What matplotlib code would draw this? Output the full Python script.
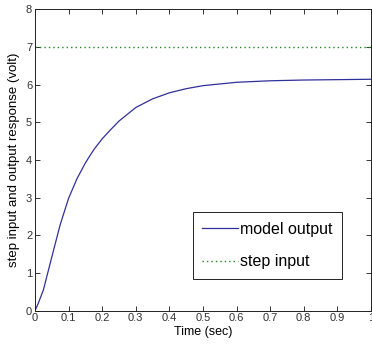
import matplotlib
matplotlib.use("Agg")
import matplotlib.pyplot as plt

plt.rcParams["font.family"] = ["Liberation Sans", "DejaVu Sans"]

# Simulated model response (sec, volt)
time_s = [0, 0.01, 0.025, 0.05, 0.075, 0.1, 0.125, 0.15, 0.175, 0.2, 0.225,
          0.25, 0.3, 0.35, 0.4, 0.45, 0.5, 0.6, 0.7, 0.8, 0.9, 1.0]
model_out = [0, 0.2, 0.55, 1.42, 2.28, 2.98, 3.5, 3.92, 4.27, 4.56, 4.8,
             5.03, 5.39, 5.62, 5.78, 5.89, 5.97, 6.06, 6.10, 6.12, 6.13, 6.14]
# Step input level
step_t = [0, 1.0]
step_v = [7, 7]

xticks = [0, 0.1, 0.2, 0.3, 0.4, 0.5, 0.6, 0.7, 0.8, 0.9, 1]
yticks = [0, 1, 2, 3, 4, 5, 6, 7, 8]

fig = plt.figure(figsize=(3.72, 3.47), dpi=100)
ax = fig.add_axes([0.094, 0.1046, 0.903, 0.869])

ax.plot(time_s, model_out, color="#30309a", lw=0.9, label="model output")
ax.plot(step_t, step_v, color="#1e8a1e", lw=1.0, ls=(0, (1, 2.2)), label="step input")

ax.set_xlim(0, 1)
ax.set_ylim(0, 8)
ax.set_xticks(xticks)
ax.set_xticklabels([str(t) for t in xticks])
ax.set_yticks(yticks)
ax.tick_params(direction="in", length=3.5, width=0.7, top=True, right=True,
               labelsize=8, colors="#333333", pad=2)
for s in ax.spines.values():
    s.set_linewidth(0.7)
    s.set_color("#222222")

ax.set_xlabel("Time (sec)", fontsize=9, labelpad=2)
ax.set_ylabel("step input and output response (volt)", fontsize=9.5, labelpad=4)

leg = ax.legend(loc="lower left", bbox_to_anchor=(0.470, 0.105, 0.444, 0.255),
                mode="expand", fontsize=11.5, frameon=True, fancybox=False,
                framealpha=1, edgecolor="#222222", borderaxespad=0,
                handlelength=2.2, handletextpad=0.15, labelspacing=1.1,
                borderpad=0.6)
leg.get_frame().set_linewidth(0.7)

fig.savefig("out.png", dpi=100)
